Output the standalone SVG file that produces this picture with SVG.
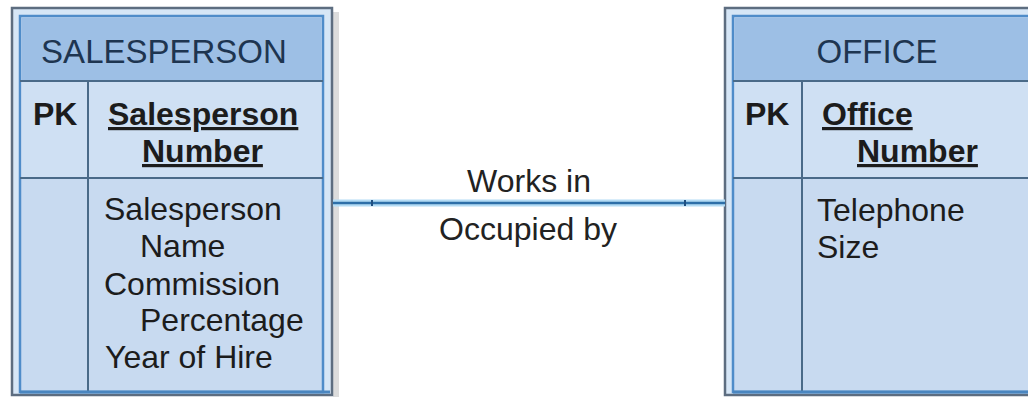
<svg xmlns="http://www.w3.org/2000/svg" width="1028" height="398" viewBox="0 0 1028 398">
<defs>
<style>
.outer{fill:#d6e6f6;stroke:#5d6d80;stroke-width:2.5}
.inner{fill:#c8daf0;stroke:#4f8cc9;stroke-width:2.5}
.head{fill:#9dbfe5}
.pkrow{fill:#cfe0f3}
.sep{stroke:#4a6a88;stroke-width:2;fill:none}
.shadow{fill:#c4c4c4;opacity:0.6}
text{font-family:"Liberation Sans",Arial,sans-serif;font-size:32px;fill:#1c1c1c}
.title{fill:#1e3550;font-size:33px;text-anchor:middle}
.b{font-weight:bold}
.u{text-decoration:underline}
.lbl{text-anchor:middle;fill:#222}
</style>
</defs>
<rect width="1028" height="398" fill="#ffffff"/>
<g id="salesperson">
<rect class="shadow" x="333" y="12" width="6" height="385"/>
<rect class="outer" x="12" y="8" width="320" height="387"/>
<rect class="inner" x="20" y="16" width="303" height="376"/>
<rect class="head" x="21.5" y="17.5" width="300" height="63"/>
<rect class="pkrow" x="21.5" y="82" width="300" height="95"/>
<line class="sep" x1="20" y1="81" x2="323" y2="81"/>
<line class="sep" x1="20" y1="178" x2="323" y2="178"/>
<line class="sep" x1="88" y1="81" x2="88" y2="392"/>
<line x1="20" y1="392" x2="330" y2="392" stroke="#4a86c0" stroke-width="3"/>
<text class="title" x="164" y="63">SALESPERSON</text>
<text class="b" x="33" y="125">PK</text>
<text class="b u" x="108" y="125">Salesperson</text>
<text class="b u" x="142" y="162">Number</text>
<text x="104" y="220">Salesperson</text>
<text x="140" y="257">Name</text>
<text x="104" y="295">Commission</text>
<text x="140" y="331">Percentage</text>
<text x="105" y="368">Year of Hire</text>
</g>
<g id="office">
<rect class="outer" x="725" y="8" width="400" height="387"/>
<rect class="inner" x="733" y="16" width="400" height="376"/>
<rect class="head" x="734.5" y="17.5" width="400" height="63"/>
<rect class="pkrow" x="734.5" y="82" width="400" height="95"/>
<line class="sep" x1="733" y1="81" x2="1028" y2="81"/>
<line class="sep" x1="733" y1="178" x2="1028" y2="178"/>
<line class="sep" x1="802" y1="81" x2="802" y2="392"/>
<line x1="733" y1="392" x2="1028" y2="392" stroke="#4a86c0" stroke-width="3"/>
<text class="title" x="877" y="63">OFFICE</text>
<text class="b" x="745" y="125">PK</text>
<text class="b u" x="822" y="125">Office</text>
<text class="b u" x="857" y="162">Number</text>
<text x="817" y="221">Telephone</text>
<text x="817" y="258">Size</text>
</g>
<g id="connectors">
<line x1="333" y1="203" x2="725" y2="203" stroke="#b4dcf5" stroke-width="7"/>
<line x1="333" y1="203" x2="725" y2="203" stroke="#2d6fa8" stroke-width="2.5"/>
<line x1="372" y1="200" x2="372" y2="206" stroke="#1f4f80" stroke-width="2"/>
<line x1="685" y1="200" x2="685" y2="206" stroke="#1f4f80" stroke-width="2"/>
<text class="lbl" x="529" y="192">Works in</text>
<text class="lbl" x="528" y="240">Occupied by</text>
</g>
</svg>
